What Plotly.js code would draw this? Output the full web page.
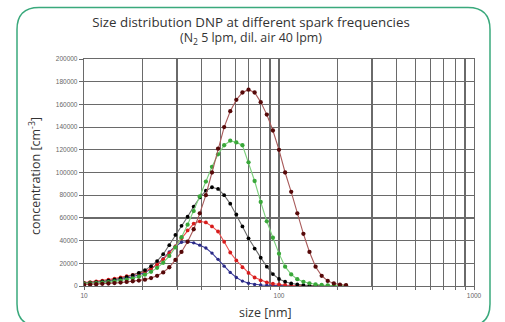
<!DOCTYPE html>
<html>
<head>
<meta charset="utf-8">
<script src="https://cdn.plot.ly/plotly-3.0.1.min.js"></script>
<style>
html,body{margin:0;padding:0;background:#fff;}
#chart{width:505px;height:322px;}
</style>
</head>
<body>
<div id="chart"></div>
<script>
// particle size bins [nm]
var sizes = [10.00,10.75,11.55,12.41,13.34,14.33,15.40,16.55,17.78,19.11,20.54,22.07,23.71,25.48,27.38,29.43,31.62,33.98,36.52,39.24,42.17,45.32,48.70,52.33,56.23,60.43,64.94,69.78,74.99,80.58,86.60,93.06,100.0,107.5,115.5,124.1,133.4,143.3,154.0,165.5,177.8,191.1,205.4,220.7];

// concentration [cm-3] per series
var seriesMaroon = [1200,1400,1600,1900,2200,2600,3000,3600,4200,4800,5600,7000,9000,12000,16500,23000,30000,39000,50000,64000,80000,100000,121000,140000,154000,164000,170500,173000,170500,162000,151000,137000,120000,100000,83000,64000,46000,30000,17000,9000,4500,2200,1200,700];
var seriesGreen = [2000,2200,2500,2900,3400,4000,4800,5700,6800,8200,10000,12500,16000,20500,26500,34000,43000,54000,66000,79000,92000,105000,116000,124000,128000,126500,124000,109000,92500,74000,57000,42500,28500,17000,10200,6000,3700,2400,1500,900,600,450,350,300];
var seriesBlack = [2500,2900,3400,4000,4700,5600,6700,8000,9600,11600,14000,17500,22000,28000,36000,45000,53000,61000,70000,78000,84000,87000,85500,80000,72500,63000,52500,42000,33000,25000,17000,10500,6200,3800,2200,1300,800,500,350,250,200,150,120,100];
var seriesRed = [3000,3500,4100,4800,5600,6500,7500,8600,9800,11200,13000,15500,19000,23500,29000,35000,42000,49000,55000,57000,56000,52500,48000,39000,29500,22500,16500,11500,7500,5000,3200,2000,1300,900,600,400,300,250,200,150,120,100,90,80];
var seriesBlue = [2200,2600,3000,3500,4100,4800,5700,6800,8200,9900,12000,15000,19000,24000,30000,35000,38500,39000,38000,36000,33500,29000,23500,17500,12000,7500,4300,2400,1400,900,600,400,300,250,200,150,120,100,90,80,70,60,50,50];

var xTickVals = [10,100,1000];
var xTickText = ['10','100','1000'];
var xMinorVals = [20,30,40,50,60,70,80,90,200,300,400,500,600,700,800,900];
var yTickVals = [0,20000,40000,60000,80000,100000,120000,140000,160000,180000,200000];
var yTickText = ['0','20000','40000','60000','80000','100000','120000','140000','160000','180000','200000'];

var titleLine1 = 'Size distribution DNP at different spark frequencies';
var titleLine2 = '(N<sub>2</sub> 5 lpm, dil. air 40 lpm)';

function tr(y, mcol, lcol, msize){
  return {x:sizes, y:y, type:'scatter', mode:'lines+markers',
    line:{color:lcol, width:1.1}, marker:{color:mcol, size:msize}, showlegend:false, hoverinfo:'skip'};
}
var data = [
  tr(seriesBlue,  '#2a2a86', '#3c3c9c', 3.4),
  tr(seriesRed,   '#d61c1c', '#ec5050', 3.8),
  tr(seriesBlack, '#000000', '#6a6a6a', 3.8),
  tr(seriesGreen, '#3aa83a', '#7ccf7c', 4.3),
  tr(seriesMaroon,'#560909', '#a85a5a', 4.3)
];

// plot geometry in pixels
var L=84, R=474, T=59, B=286;
var W=R-L, H=B-T;
function P(x,y){return ((x-L)/W).toFixed(5)+','+((B-y)/H).toFixed(5);}
// rounded frame
var fx0=17, fy0=7.5, fx1=490, fy1=326, rr=22;
var framePath = 'M'+P(fx0+rr,fy0)+' L'+P(fx1-rr,fy0)+' Q'+P(fx1,fy0)+' '+P(fx1,fy0+rr)+
  ' L'+P(fx1,fy1-rr)+' Q'+P(fx1,fy1)+' '+P(fx1-rr,fy1)+
  ' L'+P(fx0+rr,fy1)+' Q'+P(fx0,fy1)+' '+P(fx0,fy1-rr)+
  ' L'+P(fx0,fy0+rr)+' Q'+P(fx0,fy0)+' '+P(fx0+rr,fy0)+' Z';

var gridCol='#6a6a6a';
var tickFont={family:'Liberation Sans, Arial, sans-serif', size:6.5, color:'#666'};
var layout = {
  width:505, height:322,
  margin:{l:L, r:505-R, t:T, b:322-B, pad:0},
  paper_bgcolor:'#ffffff', plot_bgcolor:'#ffffff',
  font:{family:'Open Sans, sans-serif', color:'#333'},
  title:{text:titleLine1,
    font:{family:'Open Sans, sans-serif', size:13.3, color:'#333'},
    x:251/505, xanchor:'center', y:1-22/322, yanchor:'middle', yref:'container'},
  xaxis:{type:'log', range:[1,3], tickmode:'array', tickvals:xTickVals, ticktext:xTickText,
    showgrid:true, gridcolor:gridCol, gridwidth:1.2, zeroline:false,
    minor:{tickmode:'array', tickvals:xMinorVals, showgrid:true, gridcolor:gridCol, gridwidth:1.2, ticks:'outside', ticklen:3, tickcolor:gridCol},
    showline:true, linecolor:gridCol, linewidth:1.2, mirror:true,
    ticks:'outside', ticklen:3, tickcolor:gridCol, tickwidth:1,
    tickfont:tickFont},
  yaxis:{range:[0,200000], tickmode:'array', tickvals:yTickVals, ticktext:yTickText,
    showgrid:true, gridcolor:gridCol, gridwidth:1.2, zeroline:false,
    showline:true, linecolor:gridCol, linewidth:1.2, mirror:true,
    ticks:'outside', ticklen:4, tickcolor:gridCol, tickwidth:1,
    tickfont:tickFont},
  annotations:[
    {text:titleLine2, xref:'paper', yref:'paper', x:(251-L)/W, y:(B-38.5)/H, xanchor:'center', yanchor:'middle',
     showarrow:false, font:{family:'Open Sans, sans-serif', size:12.4, color:'#333'}},
    {text:'size [nm]', xref:'paper', yref:'paper', x:(265-L)/W, y:(B-312)/H, xanchor:'center', yanchor:'middle',
     showarrow:false, font:{family:'Open Sans, sans-serif', size:12.5, color:'#333'}},
    {text:'concentration [cm<sup>-3</sup>]', xref:'paper', yref:'paper', x:(35-L)/W, y:(B-176)/H, xanchor:'center', yanchor:'middle',
     textangle:-90, showarrow:false, font:{family:'Open Sans, sans-serif', size:12.5, color:'#333'}}
  ],
  shapes:[{type:'path', xref:'paper', yref:'paper', path:framePath, line:{color:'#3aa97c', width:1.5}, fillcolor:'rgba(0,0,0,0)'}]
};
Plotly.newPlot('chart', data, layout, {staticPlot:true, displayModeBar:false});
</script>
</body>
</html>
